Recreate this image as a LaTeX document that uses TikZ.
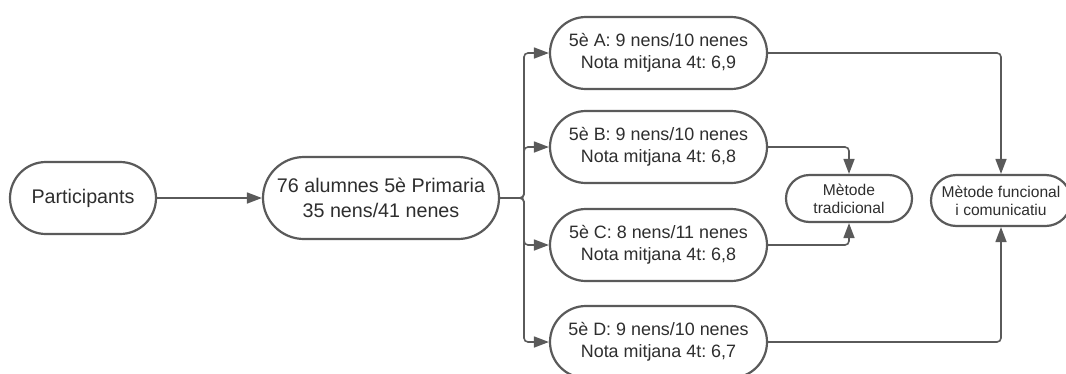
\documentclass[tikz,border=0pt]{standalone}
\usepackage{fontspec}
\setmainfont{Liberation Sans}
\usetikzlibrary{arrows.meta}
\definecolor{linec}{HTML}{5A5A5A}
\definecolor{textc}{HTML}{2E2E2E}
\tikzset{
  pill/.style={draw=linec, line width=2.2pt, fill=white, text=textc, align=center, inner sep=0pt},
  big/.style={pill, font=\fontsize{19.7}{24.6}\selectfont},
  mid/.style={pill, font=\fontsize{17.9}{21.7}\selectfont, minimum width=217pt, minimum height=72pt, rounded corners=36pt},
  small/.style={pill, font=\fontsize{15.6}{18.2}\selectfont},
  conn/.style={draw=linec, line width=1.6pt, rounded corners=4pt, -{Triangle[length=15pt,width=11pt]}},
}
\begin{document}
\frenchspacing
\begin{tikzpicture}[x=1pt,y=-1pt]
\useasboundingbox (0,0) rectangle (1066,373);
\clip (0,0) rectangle (1066,373);
\fill[white] (0,0) rectangle (1066,373);
\node[big, minimum width=146pt, minimum height=72pt, rounded corners=36pt] (part) at (83,198) {Participants};
\node[big, minimum width=236pt, minimum height=82pt, rounded corners=41pt] (alum) at (381,198) {76 alumnes 5è Primaria\\35 nens/41 nenes};
\node[mid] (A) at (658.5,53) {5è A: 9 nens/10 nenes\\Nota mitjana 4t: 6,9};
\node[mid] (B) at (658.5,147) {5è B: 9 nens/10 nenes\\Nota mitjana 4t: 6,8};
\node[mid] (C) at (658.5,245) {5è C: 8 nens/11 nenes\\Nota mitjana 4t: 6,8};
\node[mid] (D) at (658.5,342) {5è D: 9 nens/10 nenes\\Nota mitjana 4t: 6,7};
\node[small, minimum width=126pt, minimum height=47pt, rounded corners=23.5pt] (trad) at (849,198.5) {Mètode\\tradicional};
\node[small, minimum width=140pt, minimum height=51pt, rounded corners=25.5pt] (func) at (1001,200.5) {Mètode funcional\\i comunicatiu};
\coordinate (br) at (524,198);
\draw[conn] (part.east) -- (alum.west);
\draw[conn] (alum.east) -- (br) |- (A.west);
\draw[conn] (alum.east) -- (br) |- (B.west);
\draw[conn] (alum.east) -- (br) |- (C.west);
\draw[conn] (alum.east) -- (br) |- (D.west);
\draw[conn] (A.east) -| (func.north);
\draw[conn] (D.east) -| (func.south);
\draw[conn] (B.east) -| (trad.north);
\draw[conn] (C.east) -| (trad.south);
\end{tikzpicture}
\end{document}
